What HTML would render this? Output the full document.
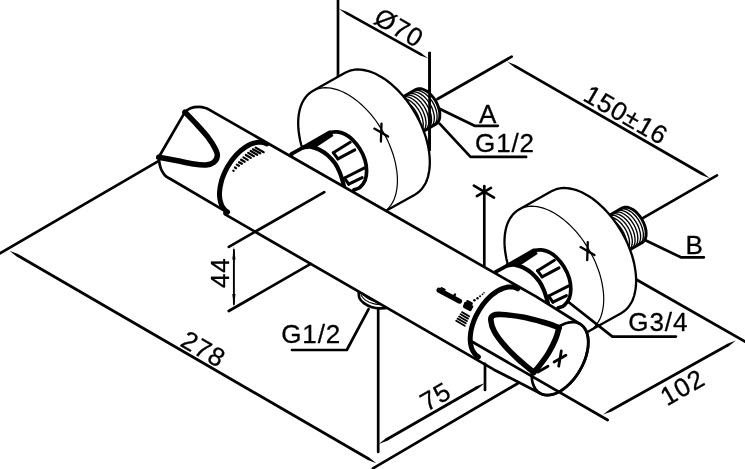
<!DOCTYPE html>
<html><head><meta charset="utf-8"><title>Thermostatic shower mixer – dimensions</title>
<style>html,body{margin:0;padding:0;background:#fff}svg{display:block;filter:grayscale(1)}
text{font-family:"Liberation Sans",Arial,sans-serif;font-size:26px;letter-spacing:0.9px;fill:#000;stroke:#000;stroke-width:0.3px}</style></head>
<body><svg width="745" height="469" viewBox="0 0 745 469">
<rect width="745" height="469" fill="#fff"/>
<g fill="none" stroke="#000" stroke-linecap="round" stroke-linejoin="round">
<path d="M338.0,0.0 L338.0,77.0" stroke-width="2.7"/>
<path d="M429.6,53.0 L429.6,150.0" stroke-width="2.7"/>
<path d="M338.9,8.7 L346.1,14.3 L419.8,55.3 L428.3,58.5 L421.1,52.9 L347.4,11.9 Z" fill="#000" stroke="none"/>
<path d="M437.5,99.0 L511.7,56.6" stroke-width="2.7"/>
<path d="M642.8,218.2 L717.0,175.4" stroke-width="2.7"/>
<path d="M507.2,61.6 L514.3,67.3 L701.3,175.0 L709.8,178.3 L702.7,172.6 L515.7,64.9 Z" fill="#000" stroke="none"/>
<path d="M437.9,108 L474.6,125.8 L497.8,125.8" stroke-width="2.7" fill="none" />
<path d="M439.6,123.7 L470.5,156.9 L526.1,156.9" stroke-width="2.7" fill="none" />
<path d="M645.4,240.2 L680.9,257.3 L703.9,257.3" stroke-width="2.7" fill="none" />
<path d="M634.5,278.5 L745.0,341.6" stroke-width="2.7"/>
<path d="M603.1,414.6 L611.6,411.4 L728.7,346.2 L735.9,340.6 L727.4,343.8 L610.3,409.0 Z" fill="#000" stroke="none"/>
<path d="M484.3,186.0 L484.3,266.0" stroke-width="2.7"/>
<path d="M473.9,185.7 L494,197.6 M476.9,196.1 L491,187.9" stroke-width="2.7" fill="none" />
<path d="M388.5,105.3 L415.7,89.6 L416.8,89.1 L418.0,88.8 L419.3,88.6 L420.6,88.7 L422.1,89.0 L423.5,89.5 L425.0,90.2 L426.5,91.0 L427.9,92.0 L429.4,93.2 L430.8,94.6 L432.1,96.1 L433.4,97.7 L434.6,99.3 L435.7,101.1 L436.7,103.0 L437.6,104.9 L438.3,106.8 L438.9,108.7 L439.4,110.6 L439.7,112.4 L439.8,114.2 L439.8,115.9 L439.7,117.5 L439.4,119.0 L438.9,120.4 L438.3,121.6 L437.6,122.6 L436.7,123.5 L435.7,124.2 L408.5,139.9" fill="#fff" stroke-width="2.9"/>
<path d="M414.4,90.5 L415.8,90.3 L417.3,90.3 L418.9,90.5 L420.6,91.0 L422.2,91.8 L423.9,92.8 L425.6,94.0 L427.2,95.4 L428.8,97.0 L430.3,98.8 L431.7,100.7 L432.9,102.7 L434.1,104.8 L435.0,107.0 L435.8,109.2 L436.4,111.3 L436.8,113.5 L437.1,115.5 L437.1,117.5 L436.9,119.3 L436.5,121.0 L435.9,122.5 L435.2,123.8 L434.2,124.8" fill="none" stroke-width="1.35"/>
<path d="M411.7,92.1 L413.1,91.9 L414.6,91.9 L416.2,92.1 L417.8,92.6 L419.5,93.4 L421.2,94.4 L422.8,95.6 L424.5,97.0 L426.0,98.6 L427.5,100.4 L428.9,102.3 L430.2,104.3 L431.3,106.4 L432.3,108.6 L433.0,110.8 L433.6,112.9 L434.1,115.1 L434.3,117.1 L434.3,119.1 L434.1,120.9 L433.7,122.6 L433.2,124.1 L432.4,125.4 L431.5,126.4" fill="none" stroke-width="1.35"/>
<path d="M408.9,93.7 L410.3,93.5 L411.8,93.5 L413.4,93.7 L415.0,94.2 L416.7,95.0 L418.4,96.0 L420.1,97.2 L421.7,98.6 L423.3,100.2 L424.8,102.0 L426.1,103.9 L427.4,105.9 L428.5,108.0 L429.5,110.2 L430.3,112.4 L430.9,114.5 L431.3,116.7 L431.5,118.7 L431.5,120.7 L431.3,122.5 L431.0,124.2 L430.4,125.7 L429.6,127.0 L428.7,128.0" fill="none" stroke-width="1.35"/>
<path d="M406.1,95.3 L407.5,95.1 L409.0,95.1 L410.6,95.3 L412.3,95.8 L413.9,96.6 L415.6,97.6 L417.3,98.8 L418.9,100.2 L420.5,101.8 L422.0,103.6 L423.4,105.5 L424.6,107.5 L425.7,109.6 L426.7,111.8 L427.5,114.0 L428.1,116.1 L428.5,118.3 L428.7,120.3 L428.8,122.3 L428.6,124.1 L428.2,125.8 L427.6,127.3 L426.9,128.6 L425.9,129.6" fill="none" stroke-width="1.35"/>
<path d="M403.3,96.9 L404.8,96.7 L406.3,96.7 L407.8,96.9 L409.5,97.4 L411.2,98.2 L412.8,99.2 L414.5,100.4 L416.1,101.8 L417.7,103.4 L419.2,105.2 L420.6,107.1 L421.9,109.1 L423.0,111.2 L423.9,113.4 L424.7,115.6 L425.3,117.7 L425.7,119.9 L426.0,121.9 L426.0,123.9 L425.8,125.7 L425.4,127.4 L424.8,128.9 L424.1,130.2 L423.2,131.2" fill="none" stroke-width="1.35"/>
<path d="M400.6,98.5 L402.0,98.3 L403.5,98.3 L405.1,98.5 L406.7,99.0 L408.4,99.8 L410.1,100.8 L411.7,102.0 L413.4,103.4 L415.0,105.0 L416.4,106.8 L417.8,108.7 L419.1,110.7 L420.2,112.8 L421.2,115.0 L422.0,117.2 L422.6,119.3 L423.0,121.5 L423.2,123.5 L423.2,125.5 L423.0,127.3 L422.6,129.0 L422.1,130.5 L421.3,131.8 L420.4,132.8" fill="none" stroke-width="1.35"/>
<path d="M397.8,100.1 L399.2,99.9 L400.7,99.9 L402.3,100.1 L403.9,100.6 L405.6,101.4 L407.3,102.4 L409.0,103.6 L410.6,105.0 L412.2,106.6 L413.7,108.4 L415.1,110.3 L416.3,112.3 L417.4,114.4 L418.4,116.6 L419.2,118.8 L419.8,120.9 L420.2,123.1 L420.4,125.1 L420.4,127.1 L420.3,128.9 L419.9,130.6 L419.3,132.1 L418.5,133.4 L417.6,134.4" fill="none" stroke-width="1.35"/>
<path d="M382.9,212.6 L380.6,213.7 L378.2,214.7 L375.7,215.3 L373.1,215.7 L370.3,215.9 L367.5,215.8 L364.6,215.4 L361.6,214.8 L358.6,214.0 L355.6,212.9 L352.5,211.6 L349.4,210.0 L346.2,208.2 L343.1,206.2 L340.0,203.9 L337.0,201.5 L334.0,198.8 L331.0,196.0 L328.1,193.0 L325.3,189.9 L322.5,186.5 L319.9,183.1 L317.4,179.5 L315.0,175.8 L312.7,172.1 L310.6,168.2 L308.6,164.3 L306.7,160.3 L305.1,156.3 L303.6,152.3 L302.2,148.3 L301.1,144.3 L300.1,140.3 L299.4,136.3 L298.8,132.5 L298.4,128.7 L298.2,125.0 L298.2,121.4 L298.4,117.9 L298.8,114.5 L299.4,111.3 L300.1,108.3 L301.1,105.4 L302.2,102.7 L303.6,100.2 L305.1,98.0 L306.7,95.9 L308.6,94.0 L310.6,92.4 L312.7,91.0 L345.1,72.8 L347.4,71.7 L349.8,70.7 L352.3,70.1 L354.9,69.7 L357.7,69.5 L360.5,69.6 L363.4,70.0 L366.4,70.6 L369.4,71.4 L372.4,72.5 L375.5,73.8 L378.6,75.4 L381.8,77.2 L384.9,79.2 L388.0,81.5 L391.0,83.9 L394.0,86.6 L397.0,89.4 L399.9,92.4 L402.7,95.5 L405.5,98.9 L408.1,102.3 L410.6,105.9 L413.0,109.6 L415.3,113.3 L417.4,117.2 L419.4,121.1 L421.3,125.1 L422.9,129.1 L424.4,133.1 L425.8,137.1 L426.9,141.1 L427.9,145.1 L428.6,149.1 L429.2,152.9 L429.6,156.7 L429.8,160.4 L429.8,164.0 L429.6,167.5 L429.2,170.9 L428.6,174.1 L427.9,177.1 L426.9,180.0 L425.8,182.7 L424.4,185.2 L422.9,187.4 L421.3,189.5 L419.4,191.4 L417.4,193.0 L415.3,194.4 Z" fill="#fff" stroke-width="2.3"/>
<path d="M312.7,91.0 L315.0,89.9 L317.4,88.9 L319.9,88.3 L322.5,87.9 L325.3,87.7 L328.1,87.8 L331.0,88.2 L334.0,88.8 L337.0,89.6 L340.0,90.7 L343.1,92.0 L346.2,93.6 L349.4,95.4 L352.5,97.4 L355.6,99.7 L358.6,102.1 L361.6,104.8 L364.6,107.6 L367.5,110.6 L370.3,113.7 L373.1,117.1 L375.7,120.5 L378.2,124.1 L380.6,127.8 L382.9,131.5 L385.0,135.4 L387.0,139.3 L388.9,143.3 L390.5,147.3 L392.0,151.3 L393.4,155.3 L394.5,159.3 L395.5,163.3 L396.2,167.3 L396.8,171.1 L397.2,174.9 L397.4,178.6 L397.4,182.2 L397.2,185.7 L396.8,189.1 L396.2,192.3 L395.5,195.3 L394.5,198.2 L393.4,200.9 L392.0,203.4 L390.5,205.6 L388.9,207.7 L387.0,209.6 L385.0,211.2 L382.9,212.6" fill="none" stroke-width="1.2"/>
<path d="M374.3,128.6 L388.1,136.6 M381.5,123.6 L380.9,141.6" stroke-width="2.3"/>
<path d="M594.8,223.8 L622.0,208.1 L623.1,207.6 L624.3,207.3 L625.6,207.1 L626.9,207.2 L628.4,207.5 L629.8,208.0 L631.3,208.7 L632.8,209.5 L634.2,210.5 L635.7,211.7 L637.1,213.1 L638.4,214.6 L639.7,216.2 L640.9,217.8 L642.0,219.6 L643.0,221.5 L643.9,223.4 L644.6,225.3 L645.2,227.2 L645.7,229.1 L646.0,230.9 L646.1,232.7 L646.1,234.4 L646.0,236.0 L645.7,237.5 L645.2,238.9 L644.6,240.1 L643.9,241.1 L643.0,242.0 L642.0,242.7 L614.8,258.4" fill="#fff" stroke-width="2.9"/>
<path d="M620.7,209.0 L622.1,208.8 L623.6,208.8 L625.2,209.0 L626.9,209.5 L628.5,210.3 L630.2,211.3 L631.9,212.5 L633.5,213.9 L635.1,215.5 L636.6,217.3 L638.0,219.2 L639.2,221.2 L640.4,223.3 L641.3,225.5 L642.1,227.7 L642.7,229.8 L643.1,232.0 L643.4,234.0 L643.4,236.0 L643.2,237.8 L642.8,239.5 L642.2,241.0 L641.5,242.3 L640.5,243.3" fill="none" stroke-width="1.35"/>
<path d="M618.0,210.6 L619.4,210.4 L620.9,210.4 L622.5,210.6 L624.1,211.1 L625.8,211.9 L627.5,212.9 L629.1,214.1 L630.8,215.5 L632.3,217.1 L633.8,218.9 L635.2,220.8 L636.5,222.8 L637.6,224.9 L638.6,227.1 L639.3,229.3 L639.9,231.4 L640.4,233.6 L640.6,235.6 L640.6,237.6 L640.4,239.4 L640.0,241.1 L639.5,242.6 L638.7,243.9 L637.8,244.9" fill="none" stroke-width="1.35"/>
<path d="M615.2,212.2 L616.6,212.0 L618.1,212.0 L619.7,212.2 L621.3,212.7 L623.0,213.5 L624.7,214.5 L626.4,215.7 L628.0,217.1 L629.6,218.7 L631.1,220.5 L632.4,222.4 L633.7,224.4 L634.8,226.5 L635.8,228.7 L636.6,230.9 L637.2,233.0 L637.6,235.2 L637.8,237.2 L637.8,239.2 L637.6,241.0 L637.3,242.7 L636.7,244.2 L635.9,245.5 L635.0,246.5" fill="none" stroke-width="1.35"/>
<path d="M612.4,213.8 L613.8,213.6 L615.3,213.6 L616.9,213.8 L618.6,214.3 L620.2,215.1 L621.9,216.1 L623.6,217.3 L625.2,218.7 L626.8,220.3 L628.3,222.1 L629.7,224.0 L630.9,226.0 L632.0,228.1 L633.0,230.3 L633.8,232.5 L634.4,234.6 L634.8,236.8 L635.0,238.8 L635.1,240.8 L634.9,242.6 L634.5,244.3 L633.9,245.8 L633.2,247.1 L632.2,248.1" fill="none" stroke-width="1.35"/>
<path d="M609.6,215.4 L611.1,215.2 L612.6,215.2 L614.1,215.4 L615.8,215.9 L617.5,216.7 L619.1,217.7 L620.8,218.9 L622.4,220.3 L624.0,221.9 L625.5,223.7 L626.9,225.6 L628.2,227.6 L629.3,229.7 L630.2,231.9 L631.0,234.1 L631.6,236.2 L632.0,238.4 L632.3,240.4 L632.3,242.4 L632.1,244.2 L631.7,245.9 L631.1,247.4 L630.4,248.7 L629.5,249.7" fill="none" stroke-width="1.35"/>
<path d="M606.9,217.0 L608.3,216.8 L609.8,216.8 L611.4,217.0 L613.0,217.5 L614.7,218.3 L616.4,219.3 L618.0,220.5 L619.7,221.9 L621.3,223.5 L622.7,225.3 L624.1,227.2 L625.4,229.2 L626.5,231.3 L627.5,233.5 L628.3,235.7 L628.9,237.8 L629.3,240.0 L629.5,242.0 L629.5,244.0 L629.3,245.8 L628.9,247.5 L628.4,249.0 L627.6,250.3 L626.7,251.3" fill="none" stroke-width="1.35"/>
<path d="M604.1,218.6 L605.5,218.4 L607.0,218.4 L608.6,218.6 L610.2,219.1 L611.9,219.9 L613.6,220.9 L615.3,222.1 L616.9,223.5 L618.5,225.1 L620.0,226.9 L621.4,228.8 L622.6,230.8 L623.7,232.9 L624.7,235.1 L625.5,237.3 L626.1,239.4 L626.5,241.6 L626.7,243.6 L626.7,245.6 L626.6,247.4 L626.2,249.1 L625.6,250.6 L624.8,251.9 L623.9,252.9" fill="none" stroke-width="1.35"/>
<path d="M589.2,331.1 L586.9,332.2 L584.5,333.2 L582.0,333.8 L579.4,334.2 L576.6,334.4 L573.8,334.3 L570.9,333.9 L567.9,333.3 L564.9,332.5 L561.9,331.4 L558.8,330.1 L555.7,328.5 L552.5,326.7 L549.4,324.7 L546.3,322.4 L543.3,320.0 L540.3,317.3 L537.3,314.5 L534.4,311.5 L531.6,308.4 L528.8,305.0 L526.2,301.6 L523.7,298.0 L521.3,294.3 L519.0,290.6 L516.9,286.7 L514.9,282.8 L513.0,278.8 L511.4,274.8 L509.9,270.8 L508.5,266.8 L507.4,262.8 L506.4,258.8 L505.7,254.8 L505.1,251.0 L504.7,247.2 L504.5,243.5 L504.5,239.9 L504.7,236.4 L505.1,233.0 L505.7,229.8 L506.4,226.8 L507.4,223.9 L508.5,221.2 L509.9,218.7 L511.4,216.5 L513.0,214.4 L514.9,212.5 L516.9,210.9 L519.0,209.5 L551.4,191.3 L553.7,190.2 L556.1,189.2 L558.6,188.6 L561.2,188.2 L564.0,188.0 L566.8,188.1 L569.7,188.5 L572.7,189.1 L575.7,189.9 L578.7,191.0 L581.8,192.3 L584.9,193.9 L588.1,195.7 L591.2,197.7 L594.3,200.0 L597.3,202.4 L600.3,205.1 L603.3,207.9 L606.2,210.9 L609.0,214.0 L611.8,217.4 L614.4,220.8 L616.9,224.4 L619.3,228.1 L621.6,231.8 L623.7,235.7 L625.7,239.6 L627.6,243.6 L629.2,247.6 L630.7,251.6 L632.1,255.6 L633.2,259.6 L634.2,263.6 L634.9,267.6 L635.5,271.4 L635.9,275.2 L636.1,278.9 L636.1,282.5 L635.9,286.0 L635.5,289.4 L634.9,292.6 L634.2,295.6 L633.2,298.5 L632.1,301.2 L630.7,303.7 L629.2,305.9 L627.6,308.0 L625.7,309.9 L623.7,311.5 L621.6,312.9 Z" fill="#fff" stroke-width="2.3"/>
<path d="M519.0,209.5 L521.3,208.4 L523.7,207.4 L526.2,206.8 L528.8,206.4 L531.6,206.2 L534.4,206.3 L537.3,206.7 L540.3,207.3 L543.3,208.1 L546.3,209.2 L549.4,210.5 L552.5,212.1 L555.7,213.9 L558.8,215.9 L561.9,218.2 L564.9,220.6 L567.9,223.3 L570.9,226.1 L573.8,229.1 L576.6,232.2 L579.4,235.6 L582.0,239.0 L584.5,242.6 L586.9,246.3 L589.2,250.0 L591.3,253.9 L593.3,257.8 L595.2,261.8 L596.8,265.8 L598.3,269.8 L599.7,273.8 L600.8,277.8 L601.8,281.8 L602.5,285.8 L603.1,289.6 L603.5,293.4 L603.7,297.1 L603.7,300.7 L603.5,304.2 L603.1,307.6 L602.5,310.8 L601.8,313.8 L600.8,316.7 L599.7,319.4 L598.3,321.9 L596.8,324.1 L595.2,326.2 L593.3,328.1 L591.3,329.7 L589.2,331.1" fill="none" stroke-width="1.2"/>
<path d="M580.6,247.1 L594.4,255.1 M587.8,242.1 L587.2,260.1" stroke-width="2.3"/>
<path d="M429.6,53.0 L429.6,150.0" stroke-width="2.7"/>
<path d="M291.1,154.2 L303.4,147.3 L329.5,132.4 C330.8,132.3 334.6,131.6 337.1,131.9 C339.6,132.2 342.1,132.8 344.6,134.0 C347.1,135.2 349.7,136.9 352.2,139.4 C354.7,141.9 357.6,145.3 359.8,148.8 C362.0,152.3 364.0,156.7 365.1,160.4 C366.2,164.1 366.6,167.8 366.6,171.1 C366.6,174.4 366.2,177.7 365.1,180.4 C364.0,183.1 361.9,185.7 360.0,187.3 C358.1,188.9 355.0,189.4 354.0,189.8 L350.0,199.0 L293.0,166.0 Z" fill="#fff" stroke-width="3.7"/>
<path d="M303.4,147.6 L329.5,131.7 L332.5,135.6 L317.4,145.6 Z" fill="#000" stroke-width="1.6"/>
<path d="M303.4,147.3 C304.7,147.2 308.4,146.4 311.0,146.8 C313.6,147.2 316.5,148.2 319.2,149.6 C321.9,151.0 324.8,152.7 327.4,155.0 C330.0,157.3 332.9,160.4 335.0,163.3 C337.1,166.2 338.5,169.4 339.8,172.5 C341.1,175.6 342.0,178.9 342.8,181.7 C343.6,184.4 344.2,187.8 344.5,189.0" fill="none" stroke-width="4.2"/>
<path d="M333.3,152.7 L350.2,142.3" stroke-width="3.0"/>
<path d="M337.9,158.9 L354.8,149.9" stroke-width="3.0"/>
<path d="M344.5,178.0 L364.5,167.8" stroke-width="3.0"/>
<path d="M348.7,184.2 L362.2,177.6" stroke-width="3.0"/>
<path d="M333.3,152.7 L337.9,158.9 M344.5,178.0 L348.7,184.2" stroke-width="3"/>
<path d="M495.3,272.2 L507.6,265.3 L533.7,250.4 C535.0,250.3 538.8,249.6 541.3,249.9 C543.8,250.2 546.3,250.8 548.8,252.0 C551.3,253.2 553.9,254.9 556.4,257.4 C558.9,259.9 561.9,263.3 564.0,266.8 C566.1,270.3 568.2,274.7 569.3,278.4 C570.4,282.1 570.8,285.8 570.8,289.1 C570.8,292.4 570.4,295.7 569.3,298.4 C568.2,301.1 566.1,303.7 564.2,305.3 C562.4,306.9 559.2,307.4 558.2,307.8 L554.2,317.0 L497.2,284.0 Z" fill="#fff" stroke-width="3.7"/>
<path d="M507.6,265.6 L533.7,249.7 L536.7,253.6 L521.6,263.6 Z" fill="#000" stroke-width="1.6"/>
<path d="M507.6,265.3 C508.9,265.2 512.6,264.4 515.2,264.8 C517.8,265.2 520.7,266.2 523.4,267.6 C526.1,269.0 529.0,270.7 531.6,273.0 C534.2,275.3 537.1,278.4 539.2,281.3 C541.3,284.2 542.7,287.4 544.0,290.5 C545.3,293.6 546.2,296.9 547.0,299.7 C547.8,302.4 548.4,305.8 548.7,307.0" fill="none" stroke-width="4.2"/>
<path d="M537.5,270.7 L554.4,260.3" stroke-width="3.0"/>
<path d="M542.1,276.9 L559.0,267.9" stroke-width="3.0"/>
<path d="M548.7,296.0 L568.7,285.8" stroke-width="3.0"/>
<path d="M552.9,302.2 L566.4,295.6" stroke-width="3.0"/>
<path d="M537.5,270.7 L542.1,276.9 M548.7,296.0 L552.9,302.2" stroke-width="3"/>
<path d="M567.5,301.2 L612.4,336.6 L675.9,336.6" stroke-width="2.7" fill="none" />
<path d="M560.0,358.6 L373.0,468.3" stroke-width="2.7"/>
<path d="M358.6,290.5 C358.7,291.7 358.5,295.8 359.4,297.9 C360.3,300.0 361.9,301.6 363.9,303.1 C365.9,304.6 368.6,306.0 371.3,306.9 C374.0,307.8 377.4,308.3 380.3,308.4 C383.2,308.4 386.9,307.9 388.8,307.2 C390.8,306.5 391.5,304.5 392.0,304.0" stroke-width="2.6" fill="#fff" />
<path d="M360.9,295.0 C361.6,295.9 363.2,298.6 365.4,300.1 C367.6,301.6 371.4,303.1 374.3,303.9 C377.2,304.7 381.4,304.6 382.8,304.7" stroke-width="1.1" fill="none" />
<path d="M362.4,294.2 C363.4,294.9 366.2,297.5 368.4,298.7 C370.6,299.9 373.6,301.0 375.8,301.6 C378.0,302.2 380.4,302.4 381.3,302.5" stroke-width="1.1" fill="none" />
<clipPath id="bodyclip"><path d="M184.9,112.1 C185.8,111.4 188.2,109.1 190.5,108.2 C192.8,107.3 196.4,106.9 198.9,106.9 C201.4,106.9 203.7,107.5 205.5,108.0 C207.3,108.5 208.8,109.6 209.5,109.9 L536.2,296.7 L580.0,324.0 L581.5,325.0 L582.9,326.2 L584.1,327.6 L585.2,329.2 L586.2,331.0 L586.9,333.0 L587.5,335.1 L588.0,337.4 L588.2,339.8 L588.3,342.3 L588.2,344.9 L588.0,347.6 L587.5,350.3 L586.9,353.2 L586.2,356.0 L585.2,358.9 L584.1,361.7 L582.9,364.6 L581.5,367.4 L580.0,370.1 L578.4,372.8 L576.6,375.4 L574.8,377.9 L572.9,380.3 L570.8,382.5 L568.8,384.6 L566.6,386.5 L564.4,388.3 L562.2,389.9 L560.0,391.3 L557.8,392.4 L555.6,393.4 L553.4,394.2 L551.3,394.7 L549.2,395.0 L547.2,395.1 L545.2,395.0 L543.4,394.6 L541.7,394.0 L540.0,393.2 L494.0,369.7 L224.7,214.2 L224.3,210.6 L170.5,179.0 C169.7,178.5 167.0,177.4 165.6,176.0 C164.2,174.6 162.9,172.6 161.9,170.8 C160.9,169.0 160.3,167.2 159.8,165.0 C159.3,162.8 158.9,158.6 158.7,157.3 Z"/></clipPath>
<path d="M184.9,112.1 C185.8,111.4 188.2,109.1 190.5,108.2 C192.8,107.3 196.4,106.9 198.9,106.9 C201.4,106.9 203.7,107.5 205.5,108.0 C207.3,108.5 208.8,109.6 209.5,109.9 L536.2,296.7 L580.0,324.0 L581.5,325.0 L582.9,326.2 L584.1,327.6 L585.2,329.2 L586.2,331.0 L586.9,333.0 L587.5,335.1 L588.0,337.4 L588.2,339.8 L588.3,342.3 L588.2,344.9 L588.0,347.6 L587.5,350.3 L586.9,353.2 L586.2,356.0 L585.2,358.9 L584.1,361.7 L582.9,364.6 L581.5,367.4 L580.0,370.1 L578.4,372.8 L576.6,375.4 L574.8,377.9 L572.9,380.3 L570.8,382.5 L568.8,384.6 L566.6,386.5 L564.4,388.3 L562.2,389.9 L560.0,391.3 L557.8,392.4 L555.6,393.4 L553.4,394.2 L551.3,394.7 L549.2,395.0 L547.2,395.1 L545.2,395.0 L543.4,394.6 L541.7,394.0 L540.0,393.2 L494.0,369.7 L224.7,214.2 L224.3,210.6 L170.5,179.0 C169.7,178.5 167.0,177.4 165.6,176.0 C164.2,174.6 162.9,172.6 161.9,170.8 C160.9,169.0 160.3,167.2 159.8,165.0 C159.3,162.8 158.9,158.6 158.7,157.3 Z" stroke-width="2.7" fill="#fff" />
<path d="M559.0,326.5 L561.3,325.2 L563.5,324.2 L565.8,323.3 L568.0,322.7 L570.1,322.3 L572.2,322.1 L574.2,322.2 L576.1,322.4 L577.9,323.0 L579.6,323.7 L581.2,324.7 L582.6,325.9 L583.9,327.3 L585.0,328.9 L586.0,330.7 L586.8,332.7 L587.5,334.8 L587.9,337.1 L588.2,339.5 L588.3,342.1 L588.2,344.7 L588.0,347.5 L587.5,350.3 L586.9,353.2 L586.1,356.1 L585.2,359.0 L584.1,361.9 L582.8,364.8 L581.4,367.7 L579.8,370.4 L578.2,373.2 L576.4,375.8 L574.5,378.3 L572.5,380.7 L570.4,383.0 L568.3,385.1 L566.1,387.0 L563.9,388.7 L561.6,390.3 L559.4,391.6 L557.1,392.8 L554.9,393.7 L552.7,394.4 L550.5,394.9 L548.4,395.1 L546.4,395.1 L544.4,394.9 L542.6,394.4 L540.9,393.7 L539.3,392.8 L537.8,391.6 L536.5,390.3 L535.3,388.7 L534.3,387.0 L533.4,385.1 L532.7,383.0 L532.2,380.7 L531.9,378.3 L531.7,375.8 L531.8,373.2" stroke-width="2.7" fill="none" />
<path d="M227.6,212.1 L226.2,211.1 L224.8,209.9 L223.6,208.5 L222.5,206.9 L221.6,205.2 L220.9,203.2 L220.3,201.1 L219.9,198.9 L219.6,196.6 L219.5,194.1 L219.6,191.5 L219.9,188.9 L220.3,186.2 L220.9,183.4 L221.6,180.6 L222.5,177.8 L223.6,175.0 L224.8,172.2 L226.2,169.4 L227.6,166.7 L229.3,164.1 L231.0,161.5 L232.8,159.1 L234.7,156.7 L236.7,154.5 L238.7,152.5 L240.8,150.6 L243.0,148.9 L245.1,147.3 L247.3,146.0 L249.5,144.8 L251.6,143.8 L253.8,143.1 L255.9,142.6 L257.9,142.3 L259.9,142.2 L261.8,142.3 L263.6,142.7 L265.3,143.2 L266.9,144.0" stroke-width="5.0" fill="none" clip-path="url(#bodyclip)"/>
<path d="M478.4,356.8 L476.9,355.8 L475.5,354.6 L474.3,353.2 L473.3,351.7 L472.3,349.9 L471.6,348.0 L471.0,345.9 L470.6,343.7 L470.3,341.3 L470.2,338.8 L470.3,336.3 L470.6,333.6 L471.0,330.9 L471.6,328.1 L472.3,325.3 L473.3,322.5 L474.3,319.7 L475.5,316.9 L476.9,314.2 L478.4,311.5 L480.0,308.8 L481.7,306.3 L483.5,303.8 L485.4,301.5 L487.4,299.3 L489.4,297.2 L491.5,295.3 L493.7,293.6 L495.8,292.1 L498.0,290.7 L500.2,289.6 L502.4,288.6 L504.5,287.9 L506.6,287.3 L508.6,287.0 L510.6,286.9 L512.5,287.1 L514.3,287.4 L516.1,288.0 L517.7,288.8" stroke-width="5.0" fill="none" clip-path="url(#bodyclip)"/>
<path d="M184.9,112.1 C186.7,113.9 191.6,118.9 195.4,123.0 C199.2,127.1 204.3,132.5 207.7,136.9 C211.0,141.3 213.9,146.0 215.5,149.2 C217.1,152.4 217.6,154.0 217.3,156.2 C217.0,158.4 215.7,160.9 213.8,162.3 C211.9,163.8 209.2,164.6 205.9,164.9 C202.6,165.2 198.6,164.7 193.7,164.0 C188.8,163.3 182.0,161.6 176.2,160.5 C170.4,159.4 161.6,157.8 158.7,157.3" stroke-width="5.5" fill="none" />
<path d="M533.5,372.5 C534.6,371.3 537.4,368.4 539.9,365.1 C542.4,361.8 546.0,357.3 548.6,352.9 C551.2,348.5 553.9,343.1 555.6,338.9 C557.4,334.7 558.5,329.5 559.1,327.6" stroke-width="5.6" fill="none" />
<path d="M559.1,327.6 C556.5,326.7 549.5,324.1 543.4,322.3 C537.3,320.6 529.4,318.4 522.4,317.1 C515.4,315.8 506.3,314.8 501.5,314.5 C496.7,314.2 495.3,314.4 493.5,315.3 C491.7,316.2 490.6,317.2 490.8,320.0 C491.0,322.8 492.1,327.6 494.5,331.9 C496.9,336.2 500.8,341.2 504.9,345.9 C509.0,350.6 514.5,355.8 518.9,359.9 C523.3,363.9 528.8,368.1 531.2,370.2 C533.6,372.3 533.1,372.1 533.5,372.5" stroke-width="5.6" fill="none" />
<path d="M472.6,342.0 L607.6,420.0" stroke-width="2.7"/>
<path d="M554.1,362.0 L565.9,355.2 M561.3,351.0 L558.7,366.2 M548,366.2 L538,372" stroke-width="2.8" fill="none" />
<path d="M233.3,170.7 L233.6,170.9" stroke-width="2.2"/>
<path d="M234.9,167.5 L236.1,168.2" stroke-width="2.2"/>
<path d="M236.8,164.6 L238.9,165.8" stroke-width="2.2"/>
<path d="M239.0,162.2 L241.9,163.8" stroke-width="2.2"/>
<path d="M241.1,159.7 L244.7,161.8" stroke-width="2.2"/>
<path d="M243.4,157.4 L247.7,159.9" stroke-width="2.2"/>
<path d="M245.8,155.0 L250.8,157.9" stroke-width="2.2"/>
<path d="M248.2,152.9 L253.9,156.2" stroke-width="2.2"/>
<path d="M250.7,151.0 L257.2,154.8" stroke-width="2.2"/>
<path d="M253.0,149.2 L260.2,153.3" stroke-width="2.2"/>
<path d="M255.7,147.6 L263.7,152.2" stroke-width="2.2"/>
<path d="M439.0,290.2 L459.6,301.2" stroke-width="5.0"/>
<path d="M441.5,288.2 L444.5,289.8 M453,297.2 L455,294.5" stroke-width="2.4" fill="none" />
<circle cx="474.4" cy="300.2" r="1.30" fill="#000" stroke="none"/>
<circle cx="477.5" cy="298.2" r="1.20" fill="#000" stroke="none"/>
<circle cx="480.1" cy="296.2" r="1.05" fill="#000" stroke="none"/>
<circle cx="482.5" cy="294.3" r="0.90" fill="#000" stroke="none"/>
<circle cx="484.0" cy="292.7" r="0.75" fill="#000" stroke="none"/>
<path d="M465.6,303.3 L471.8,306.6 L470.2,309.6 L464.4,306.6 Z M467.6,301.6 L471.4,303.6" stroke-width="3.0" fill="#000" />
<path d="M462.0,312.1 L469.1,316.2" stroke-width="1.85"/>
<path d="M460.6,314.3 L468.0,318.6" stroke-width="1.85"/>
<path d="M459.1,316.5 L466.9,321.0" stroke-width="1.85"/>
<path d="M457.6,318.6 L465.8,323.3" stroke-width="1.85"/>
<path d="M456.2,320.8 L464.7,325.7" stroke-width="1.85"/>
<path d="M228.8,246.8 L324.3,192.2" stroke-width="2.7"/>
<path d="M228.8,311.0 L310.7,263.9" stroke-width="2.7"/>
<path d="M158.0,161.3 L0.0,253.3" stroke-width="2.7"/>
<path d="M9.5,250.8 L16.6,256.5 L367.8,460.0 L376.3,463.3 L369.2,457.6 L18.0,254.1 Z" fill="#000" stroke="none"/>
<path d="M378.8,444.0 L387.3,440.7 L477.9,388.7 L485.0,383.0 L476.5,386.3 L385.9,438.3 Z" fill="#000" stroke="none"/>
<path d="M378.2,309.0 L378.2,452.0" stroke-width="2.7"/>
<path d="M485.0,363.8 L485.0,390.0" stroke-width="2.7"/>
<path d="M233.9,250.0 L233.9,304.0" stroke-width="1.9"/>
<path d="M233.9,246.6 L235.5,259.6 L232.3,259.6 Z" fill="#000" stroke="none"/>
<path d="M233.9,307.0 L232.3,294.0 L235.5,294.0 Z" fill="#000" stroke="none"/>
<path d="M368.6,309.1 L346.8,350 L292,350" stroke-width="2.7" fill="none" />
<text transform="translate(488.2,122.8) rotate(0)" text-anchor="middle" >A</text>
<text transform="translate(505.0,152.0) rotate(0)" text-anchor="middle" >G1/2</text>
<text transform="translate(694.6,253.7) rotate(0)" text-anchor="middle" >B</text>
<text transform="translate(658.3,331.2) rotate(0)" text-anchor="middle" >G3/4</text>
<text transform="translate(311.2,343.0) rotate(0)" text-anchor="middle" >G1/2</text>
<text transform="translate(228.6,272.7) rotate(-90)" text-anchor="middle" >44</text>
<text transform="translate(394.7,35.4) rotate(30)" text-anchor="middle" >Ø70</text>
<text transform="translate(621.5,122.8) rotate(30)" text-anchor="middle" >150±16</text>
<text transform="translate(199.0,356.8) rotate(30)" text-anchor="middle" >278</text>
<text transform="translate(440.1,404.2) rotate(-30)" text-anchor="middle" >75</text>
<text transform="translate(687.0,395.0) rotate(-30)" text-anchor="middle" >102</text>
</g>
</svg></body></html>
